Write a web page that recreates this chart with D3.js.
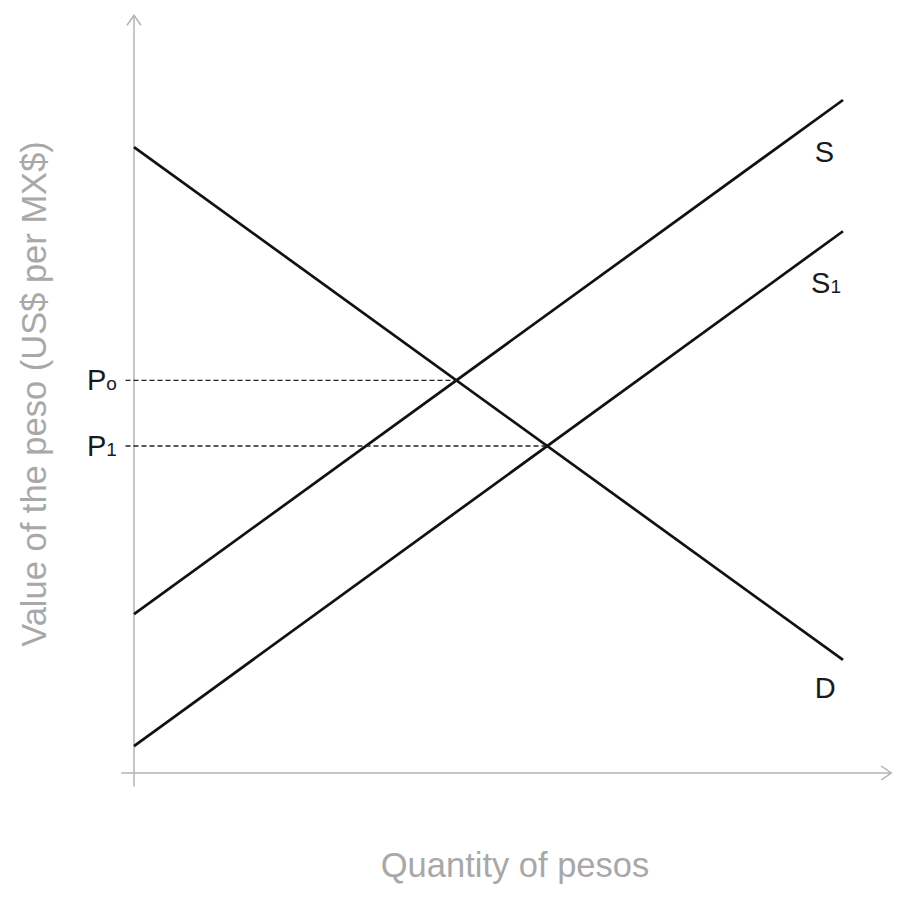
<!DOCTYPE html>
<html lang="en">
<head>
    <meta charset="UTF-8">
    <title>Peso supply and demand</title>
    <script src="https://d3js.org/d3.v7.min.js"></script>
    <style>
        body{margin:0;background:#fff;}
        .curveLabel{
            fill:#1a1a1a;
            font-size:29px;
            font-family:"Liberation Sans", Arial, sans-serif;
        }
        .axisTitle{
            fill:#a8a8a8;
            font-size:34.5px;
            font-family:"Liberation Sans", Arial, sans-serif;
        }
    </style>
</head>
<body>
<svg id="main" width="905" height="897"></svg>
<script>
    // curves as [quantity, price] endpoints, both on a 0..10 scale
    let curveNames = ['D', 'S', 'S1'];
    let demandD = [[0, 9.30], [10, 1.68]];
    let supplyS = [[0, 2.36], [10, 10.0]];
    let supplyS1 = [[0, 0.40], [10, 8.05]];
    let priceLabels = ['Po', 'P1'];

    let svg = d3.select('svg#main');
    let xScale = d3.scaleLinear().domain([0, 10]).range([134, 843]);
    let yScale = d3.scaleLinear().domain([0, 10]).range([773, 100]);

    // axes with open arrow heads
    let axisColor = '#b3b3b3';
    let xEnd = 10.68, yEnd = 11.26;
    svg.append('line')
        .attr('x1', xScale(-0.18)).attr('x2', xScale(xEnd))
        .attr('y1', yScale(0)).attr('y2', yScale(0))
        .attr('stroke', axisColor).attr('stroke-width', 1.5);
    svg.append('line')
        .attr('x1', xScale(0)).attr('x2', xScale(0))
        .attr('y1', yScale(-0.2)).attr('y2', yScale(yEnd))
        .attr('stroke', axisColor).attr('stroke-width', 1.5);
    let ax = xScale(xEnd), ay = yScale(0);
    svg.append('path')
        .attr('d', `M${ax-10},${ay-7}L${ax},${ay}L${ax-10},${ay+7}`)
        .attr('fill', 'none').attr('stroke', axisColor).attr('stroke-width', 1.5);
    let bx = xScale(0), by = yScale(yEnd);
    svg.append('path')
        .attr('d', `M${bx-7},${by+10}L${bx},${by}L${bx+7},${by+10}`)
        .attr('fill', 'none').attr('stroke', axisColor).attr('stroke-width', 1.5);

    // curves
    let curves = [demandD, supplyS, supplyS1];
    let line = d3.line().x(d => xScale(d[0])).y(d => yScale(d[1]));
    svg.selectAll('path.curve')
        .data(curves)
        .enter()
        .append('path')
        .attr('class', 'curve')
        .attr('d', line)
        .attr('fill', 'none')
        .attr('stroke', '#111')
        .attr('stroke-width', 2.7);

    // equilibrium points, found where demand meets each supply line
    function slope(c){ return (c[1][1] - c[0][1]) / (c[1][0] - c[0][0]); }
    function meet(a, b){
        let q = (b[0][1] - a[0][1]) / (slope(a) - slope(b));
        return [q, a[0][1] + slope(a) * q];
    }
    let eq = [meet(demandD, supplyS), meet(demandD, supplyS1)];

    svg.selectAll('line.guide')
        .data(eq)
        .enter()
        .append('line')
        .attr('class', 'guide')
        .attr('x1', xScale(-0.12))
        .attr('x2', d => xScale(d[0]))
        .attr('y1', d => yScale(d[1]))
        .attr('y2', d => yScale(d[1]))
        .attr('stroke', '#222')
        .attr('stroke-width', 1.3)
        .attr('stroke-dasharray', '5,3');

    // price labels with subscripts
    let pl = svg.selectAll('text.price')
        .data(eq)
        .enter()
        .append('text')
        .attr('class', 'curveLabel price')
        .attr('x', 87)
        .attr('y', d => yScale(d[1]) + 10);
    pl.append('tspan').text('P');
    pl.append('tspan')
        .style('font-size', '19px')
        .text((d, i) => priceLabels[i].slice(1));

    // curve labels
    let labelPos = [[9.6, 1.68, 38], [9.6, 10.0, 62], [9.55, 8.05, 62]];
    let cl = svg.selectAll('text.name')
        .data(curveNames)
        .enter()
        .append('text')
        .attr('class', 'curveLabel name')
        .attr('x', (d, i) => xScale(labelPos[i][0]))
        .attr('y', (d, i) => yScale(labelPos[i][1]) + labelPos[i][2]);
    cl.append('tspan').text(d => d[0]);
    cl.append('tspan')
        .style('font-size', '19px')
        .text(d => d.slice(1));

    // axis titles
    svg.append('text')
        .attr('class', 'axisTitle')
        .attr('text-anchor', 'middle')
        .attr('x', 515)
        .attr('y', 877)
        .text('Quantity of pesos');
    svg.append('text')
        .attr('class', 'axisTitle')
        .attr('text-anchor', 'middle')
        .attr('transform', 'translate(46,394) rotate(-90)')
        .text('Value of the peso (US$ per MX$)');
</script>
</body>
</html>
